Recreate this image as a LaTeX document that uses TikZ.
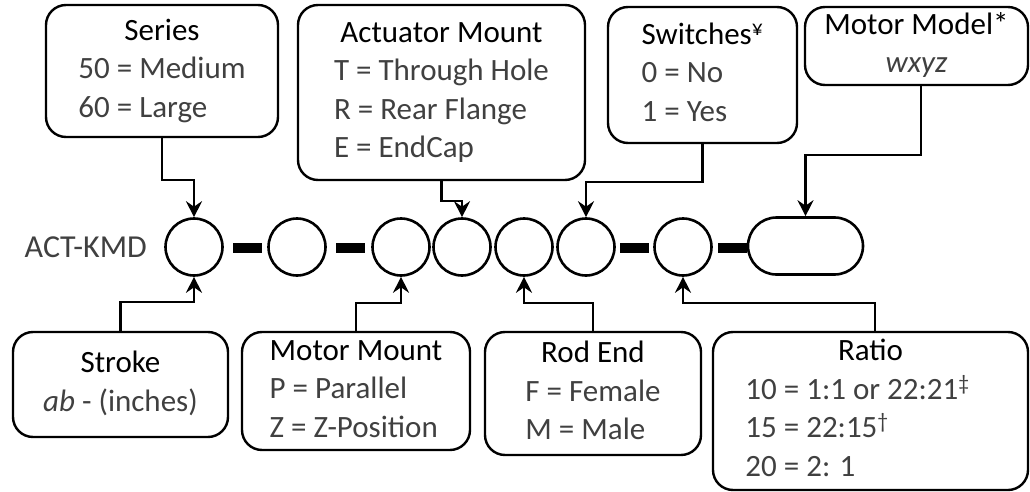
\documentclass[tikz,border=0pt]{standalone}
\usepackage{fontspec}
\setmainfont{Carlito}
\usetikzlibrary{arrows.meta,shapes.misc}
\definecolor{bodygray}{HTML}{404040}
\tikzset{
  optbox/.style={draw,line width=2.4pt,rounded corners=20pt,inner sep=0pt,text=bodygray,font=\fontsize{31}{38.5}\selectfont},
  slot/.style={draw,circle,line width=2.6pt,minimum size=57pt,inner sep=0pt},
  pill/.style={draw,rounded rectangle,line width=2.6pt,minimum width=115pt,minimum height=57pt,inner sep=0pt},
  bar/.style={fill=black,minimum width=29pt,minimum height=10pt,inner sep=0pt},
  link/.style={line width=2.4pt,-{Stealth[length=16pt,width=16pt,inset=5.5pt]}},
}
\newcommand{\boxtitle}[1]{\multicolumn{1}{@{}c@{}}{\color{black}#1}}

\begin{document}
\begin{tikzpicture}[x=1pt,y=-1pt]
    \useasboundingbox (0,0) rectangle (1030,492);

    % Part number slots
    \node[anchor=east,inner sep=0pt,text=bodygray,font=\fontsize{32}{38}\selectfont] (prefix) at (147,247) {ACT-KMD};
    \foreach \name/\x in {s1/194,s2/297,s3/401,s4/462,s5/524,s6/586,s7/683}
        \node[slot] (\name) at (\x,247) {};
    \node[pill] (s8) at (805.5,246) {};
    \foreach \name/\x in {b1/247.5,b2/350,b3/634,b4/732}
        \node[bar] (\name) at (\x,248) {};

    % Top boxes
    \node[optbox,minimum width=232pt,minimum height=132pt] (series) at (162,71)
        {\begin{tabular}{@{}l@{}}\boxtitle{Series}\\ 50 = Medium\\ 60 = Large\end{tabular}};
    \node[optbox,minimum width=287pt,minimum height=175pt] (actuator) at (441.5,92.5)
        {\begin{tabular}{@{}l@{}}\boxtitle{Actuator Mount}\\ T = Through Hole\\ R = Rear Flange\\ E = EndCap\end{tabular}};
    \node[optbox,minimum width=189pt,minimum height=136pt] (switches) at (702.5,75)
        {\begin{tabular}{@{}l@{}}\boxtitle{Switches\textsuperscript{¥}}\\ 0 = No\\ 1 = Yes\end{tabular}};
    \node[optbox,minimum width=223pt,minimum height=78pt] (model) at (916.5,46)
        {\begin{tabular}{@{}c@{}}\boxtitle{Motor Model*}\\ \textit{wxyz}\end{tabular}};

    % Bottom boxes
    \node[optbox,minimum width=215pt,minimum height=105pt] (stroke) at (120.5,384.5)
        {\begin{tabular}{@{}c@{}}\boxtitle{Stroke}\\ \textit{ab} - (inches)\end{tabular}};
    \node[optbox,minimum width=228pt,minimum height=118pt] (motormount) at (356,391)
        {\begin{tabular}{@{}l@{}}\boxtitle{Motor Mount}\\ P = Parallel\\ Z = Z-Position\end{tabular}};
    \node[optbox,minimum width=216pt,minimum height=123pt] (rodend) at (593,393.5)
        {\begin{tabular}{@{}l@{}}\boxtitle{Rod End}\\ F = Female\\ M = Male\end{tabular}};
    \node[optbox,minimum width=315pt,minimum height=158pt] (ratio) at (870.5,411)
        {\begin{tabular}{@{}l@{}}\boxtitle{\hspace*{26pt}Ratio}\\ 10 = 1:1 or 22:21\textsuperscript{‡}\\ 15 = 22:15\textsuperscript{†}\\ 20 = 2: 1\end{tabular}\hspace*{26pt}};

    % Arrows to the slots
    \draw[link] (series.south) -- ++(0,42) -| (s1.north);
    \draw[link] (actuator.south) -- ++(0,20) -| (s4.north);
    \draw[link] (switches.south) -- ++(0,38) -| (s6.north);
    \draw[link] ([xshift=4.5pt]model.south) -- ++(0,69) -| (s8.north);
    \draw[link] (stroke.north) -- ++(0,-29) -| (s1.south);
    \draw[link] (motormount.north) -- ++(0,-28) -| (s3.south);
    \draw[link] (rodend.north) -- ++(0,-28) -| (s5.south);
    \draw[link] ([xshift=4.5pt]ratio.north) -- ++(0,-28) -| (s7.south);

\end{tikzpicture}
\end{document}
